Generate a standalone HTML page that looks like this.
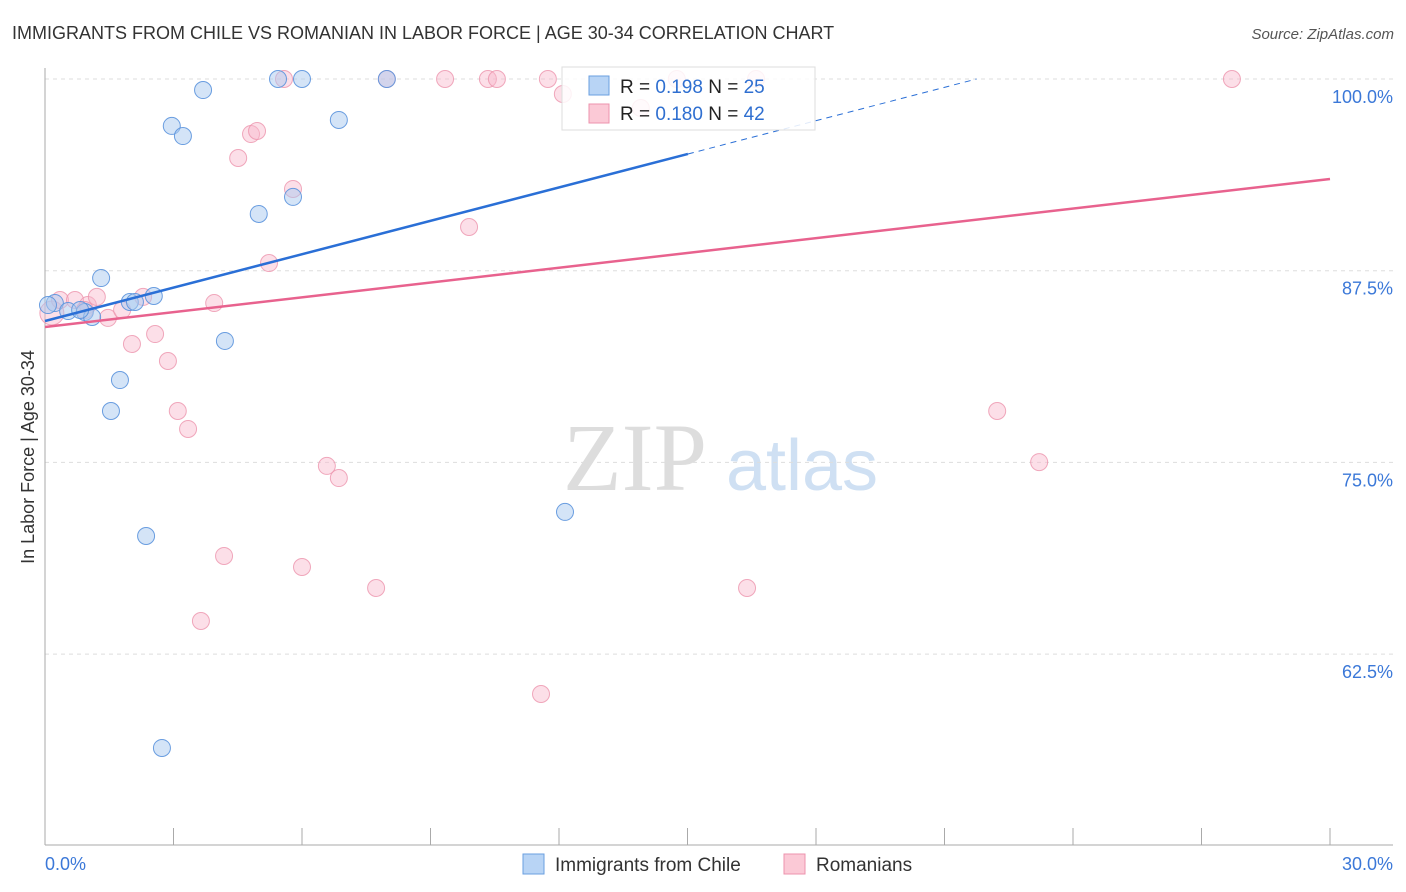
<!DOCTYPE html>
<html><head><meta charset="utf-8"><style>
body{margin:0;background:#fff;font-family:"Liberation Sans",sans-serif}
svg{display:block}
</style></head><body>
<svg width="1406" height="892" xmlns="http://www.w3.org/2000/svg">
<text x="12" y="39" font-size="18" fill="#333">IMMIGRANTS FROM CHILE VS ROMANIAN IN LABOR FORCE | AGE 30-34 CORRELATION CHART</text>
<text x="1394" y="39" font-size="15" fill="#555" font-style="italic" text-anchor="end">Source: ZipAtlas.com</text>
<g>
<text x="635" y="490" font-size="96" font-family="Liberation Serif,serif" fill="#ddd" text-anchor="middle">ZIP</text>
<text x="802" y="490" font-size="72" fill="#cfe0f3" text-anchor="middle">atlas</text>
</g>
<g id="grid"></g>
<g id="axes"></g>
<g id="marks"></g>
<g>
<rect x="562" y="67" width="253" height="63" fill="#fff" fill-opacity="0.85" stroke="#ddd"/>
<rect x="589" y="76" width="20" height="19" fill="#b8d4f5" stroke="#6a9fe0"/>
<rect x="589" y="104" width="20" height="19" fill="#fbc9d6" stroke="#ec93ad"/>
<text x="620" y="93" font-size="19" fill="#222">R = <tspan fill="#2f6fd0">0.198</tspan>   N = <tspan fill="#2f6fd0">25</tspan></text>
<text x="620" y="120" font-size="19" fill="#222">R = <tspan fill="#2f6fd0">0.180</tspan>   N = <tspan fill="#2f6fd0">42</tspan></text>
</g>
<g>
<rect x="523" y="854" width="21" height="20" fill="#b8d4f5" stroke="#6a9fe0"/>
<text x="555" y="871" font-size="19" fill="#333">Immigrants from Chile</text>
<rect x="784" y="854" width="21" height="20" fill="#fbc9d6" stroke="#ec93ad"/>
<text x="816" y="871" font-size="19" fill="#333">Romanians</text>
</g>
<text transform="translate(34,457) rotate(-90)" font-size="18" fill="#333" text-anchor="middle">In Labor Force | Age 30-34</text>
</svg>
<script>
const yTicks=[100,87.5,75,62.5];
const yTickLabels=["100.0%","87.5%","75.0%","62.5%"];
const xTicks=[0,3,6,9,12,15,18,21,24,27,30];
const xTickLabels=["0.0%","30.0%"];
const chileX=[0.23,0.54,0.93,1.10,1.31,1.54,1.75,1.98,2.10,2.36,2.54,2.73,2.96,3.22,3.69,4.20,4.99,5.44,5.79,6.00,6.86,7.98,12.14,0.07,0.82];
const chileY=[85.39,84.87,84.81,84.48,87.02,78.35,80.37,85.46,85.46,70.20,85.85,56.38,96.94,96.28,99.28,82.92,91.20,100,92.31,100,97.33,100,71.77,85.26,84.94];
const romX=[0.16,0.35,0.70,1.00,1.21,1.47,1.80,2.03,2.29,2.57,2.87,3.10,3.34,3.64,3.95,4.18,4.51,4.81,4.95,5.23,5.58,5.79,6.00,6.58,6.86,7.73,7.98,9.34,9.90,10.34,10.55,11.58,11.74,12.09,13.91,14.75,16.39,16.60,22.23,23.21,27.71,0.93];
const romY=[84.74,85.59,85.59,85.26,85.79,84.42,84.94,82.72,85.79,83.37,81.61,78.35,77.18,64.66,85.39,68.90,94.85,96.41,96.61,88.00,100,92.83,68.18,74.77,73.98,66.81,100,100,90.35,100,100,59.90,100,99.02,98.11,100,66.81,100,78.35,75.02,100,84.94];
const chileTrend=[84.22,0.7256]; // intercept, slope
const romTrend=[83.83,0.3217];
const chileSolidEnd=15.01;

const NS="http://www.w3.org/2000/svg";
const X=v=>45+v/30*1285;
const Y=v=>79+(100-v)/12.5*191.7;
function mk(tag,attrs,parent){const e=document.createElementNS(NS,tag);for(const k in attrs)e.setAttribute(k,attrs[k]);parent.appendChild(e);return e;}
const grid=document.getElementById('grid'),axes=document.getElementById('axes'),marks=document.getElementById('marks');
yTicks.forEach((t,i)=>{
 const l=mk('line',{x1:45,x2:1393,y1:Y(t),y2:Y(t),stroke:'#ddd','stroke-dasharray':'4,4'},grid);
 
 
 const tx=mk('text',{x:1393,y:Y(t)+24,'font-size':18,fill:'#3b78d8','text-anchor':'end'},axes);
 tx.textContent=yTickLabels[i];
 
 
});
let a=mk('line',{x1:45,x2:45,y1:68,y2:845,stroke:'#aaa'},axes);


a=mk('line',{x1:45,x2:1393,y1:845,y2:845,stroke:'#aaa'},axes);


xTicks.forEach(t=>{
 const l=mk('line',{x1:X(t),x2:X(t),y1:828,y2:845,stroke:'#aaa'},axes);
 
 
});
let t0=mk('text',{x:45,y:870,'font-size':18,fill:'#3b78d8'},axes);t0.textContent=xTickLabels[0];


let t1=mk('text',{x:1393,y:870,'font-size':18,fill:'#3b78d8','text-anchor':'end'},axes);t1.textContent=xTickLabels[1];



romX.forEach((x,i)=>{
 const c=mk('circle',{cx:X(x),cy:Y(romY[i]),r:i===0?12:8.5,fill:'#f9b9cc','fill-opacity':0.45,stroke:'#ec93ad','stroke-opacity':0.8},marks);
 
 
});
chileX.forEach((x,i)=>{
 const c=mk('circle',{cx:X(x),cy:Y(chileY[i]),r:8.5,fill:'#a9c9f0','fill-opacity':0.5,stroke:'#5b93dd','stroke-opacity':0.9},marks);
 
 
});
const cy=x=>chileTrend[0]+chileTrend[1]*x, ry=x=>romTrend[0]+romTrend[1]*x;
let l=mk('line',{x1:X(0),y1:Y(cy(0)),x2:X(chileSolidEnd),y2:Y(cy(chileSolidEnd)),stroke:'#2a6fd6','stroke-width':2.5},marks);


const xEnd=(100-chileTrend[0])/chileTrend[1];
l=mk('line',{x1:X(chileSolidEnd),y1:Y(cy(chileSolidEnd)),x2:X(xEnd),y2:Y(100),stroke:'#2a6fd6','stroke-width':1,'stroke-dasharray':'6,5'},marks);


l=mk('line',{x1:X(0),y1:Y(ry(0)),x2:X(30),y2:Y(ry(30)),stroke:'#e8628e','stroke-width':2.5},marks);


</script>
</body></html>
